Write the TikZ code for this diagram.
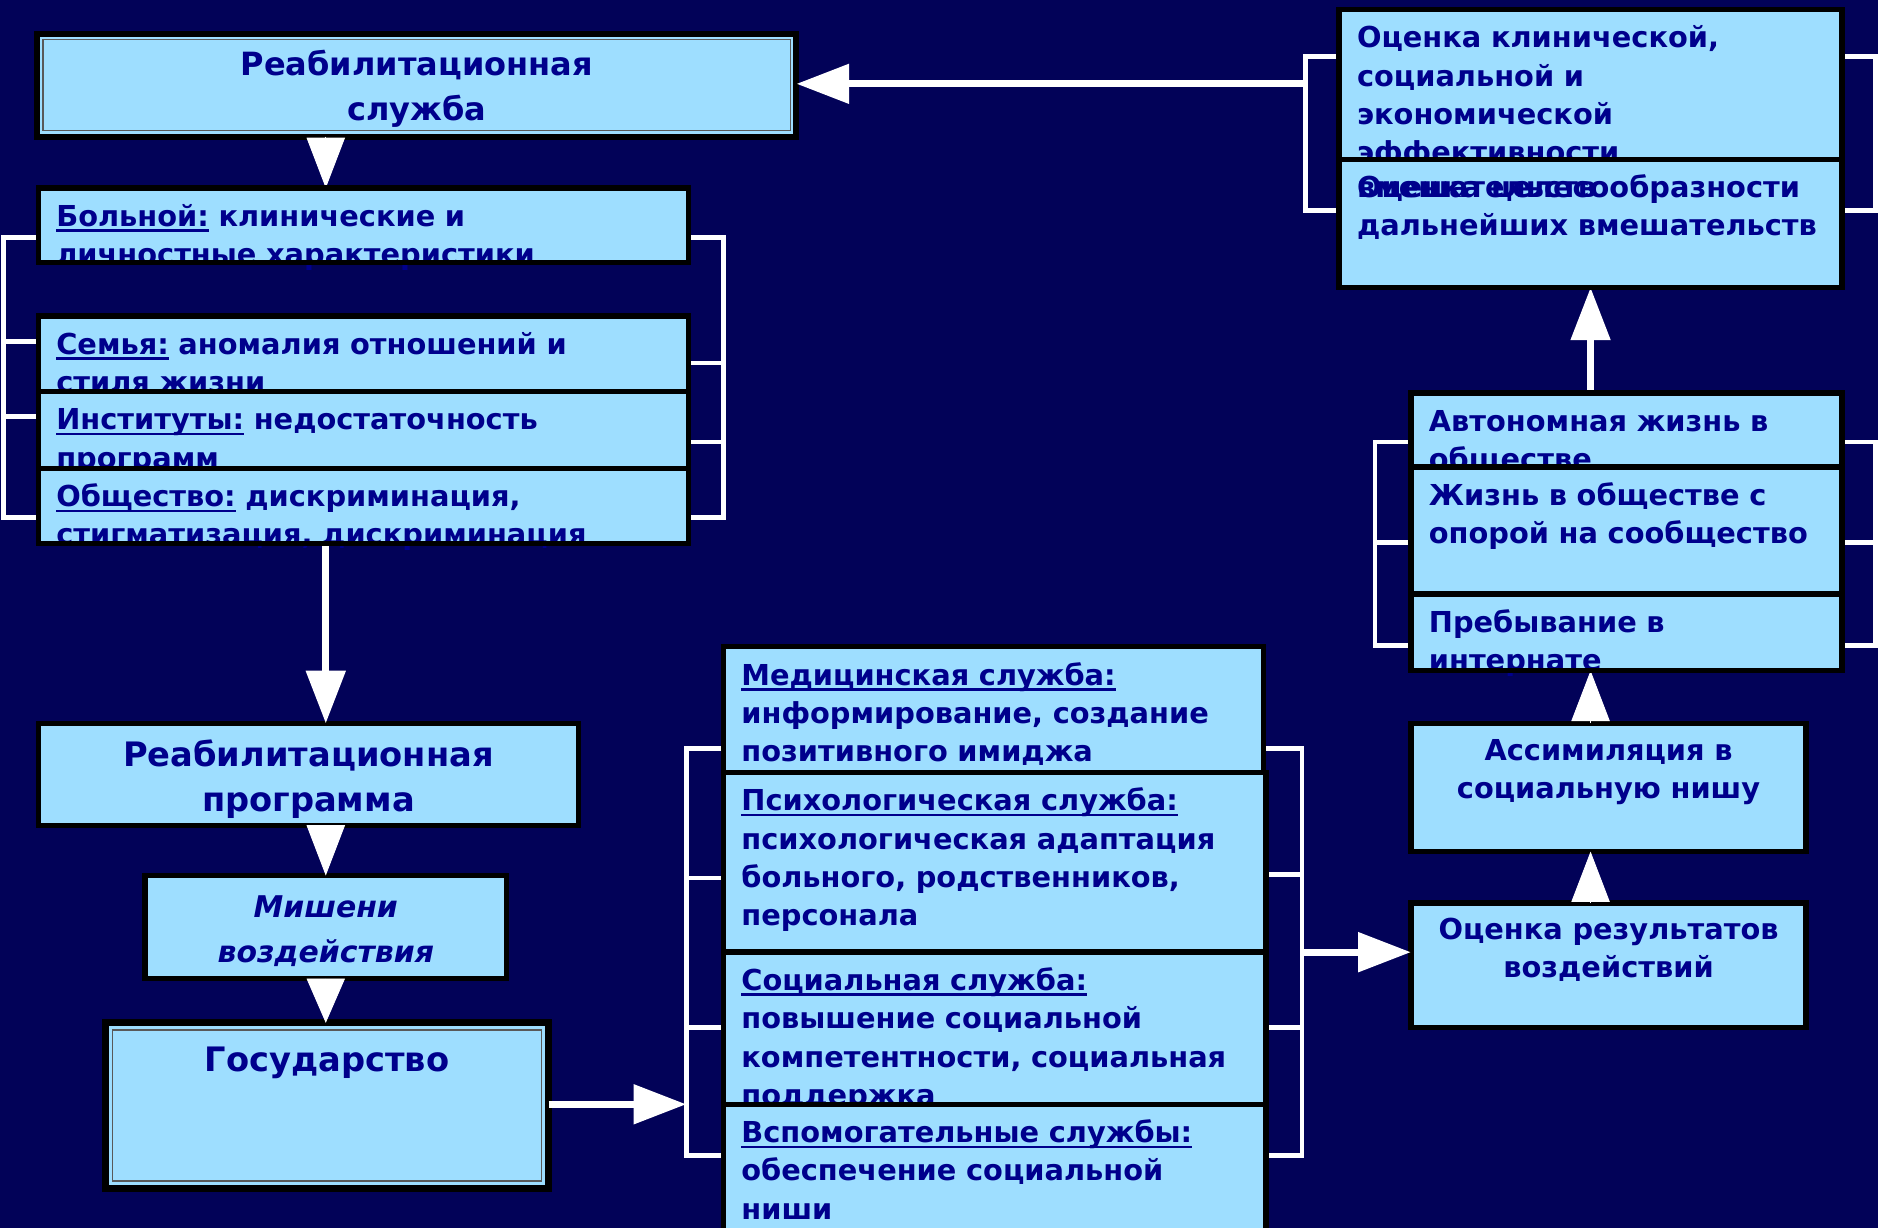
\documentclass[tikz,border=0pt]{standalone}
\usepackage{fontspec}
\setmainfont{DejaVu Sans}
\usetikzlibrary{arrows.meta}
\definecolor{bgnavy}{RGB}{2,2,88}
\definecolor{paleblue}{RGB}{158,222,255}
\definecolor{inkblue}{RGB}{0,0,140}
\newsavebox{\hwbox}
\newcommand{\headword}[1]{\sbox{\hwbox}{#1}\rlap{\rule[-2.6pt]{\wd\hwbox}{1.2pt}}\usebox{\hwbox}}
\newcommand{\bodyfont}{\fontsize{13.7}{18.2}\selectfont\bfseries}
\newcommand{\titlefont}{\fontsize{16}{21.6}\selectfont\bfseries}
\begin{document}
\begin{tikzpicture}[x=0.2mm,y=-0.2mm,
  every node/.style={text=inkblue,font=\bodyfont},
  cell/.style 2 args={draw=black,line width=0.9mm,fill=paleblue,anchor=north west,
    inner xsep=3mm,inner ysep=0pt,outer sep=0pt,align=left,text width=#1*0.2mm-6mm,
    text height=6.4mm,text depth=#2*0.2mm-6.4mm},
  titlebox/.style n args={3}{cell={#1}{#2},align=center,font=\titlefont,
    text height=#3*0.2mm,text depth=#2*0.2mm-#3*0.2mm},
  bracketline/.style={white,line width=0.8mm},
  flow/.style={white,line width=1.2mm,-{Triangle[width=6.4mm,length=8.8mm]}},
  gaparrow/.style={white,line width=0.4pt,-{Triangle[width=6.4mm,length=#1]}},
  gaparrow/.default=8.4mm]
\useasboundingbox (0,0) rectangle (1568,1025);
\clip (0,0) rectangle (1568,1025);
\fill[bgnavy] (0,0) rectangle (1568,1025);

% left column
\node[titlebox={634}{86}{35},line width=1mm,font=\fontsize{15.2}{21.6}\selectfont\bfseries] (svc) at (31,28) {Реабилитационная\\служба};
\draw[black!65,line width=0.25mm] ([shift={(5,5)}]svc.north west) rectangle ([shift={(-5,-5)}]svc.south east);
\node[cell={543}{62}] (bol) at (32,157) {\headword{Больной:} клинические и\\личностные характеристики};
\node[cell={543}{63}] (sem) at (32,264) {\headword{Семья:} аномалия отношений и\\стиля жизни};
\node[cell={543}{64}] (inst) at (32,327) {\headword{Институты:} недостаточность\\программ};
\node[cell={543}{63}] (obsh) at (32,391) {\headword{Общество:} дискриминация,\\стигматизация, дискриминация};
\node[titlebox={451}{85}{36}] (prog) at (32,604) {Реабилитационная\\программа};
\node[titlebox={302}{86}{35},font=\fontsize{14.2}{21.6}\selectfont\bfseries\itshape] (mish) at (121,731) {Мишени\\воздействия};
\node[titlebox={370}{138}{41},line width=1.2mm] (gos) at (88,854) {Государство};
\draw[black!65,line width=0.25mm] ([shift={(6,6)}]gos.north west) rectangle ([shift={(-6,-6)}]gos.south east);

% services
\node[cell={451}{105}] (med) at (604,540) {\headword{Медицинская служба:}\\информирование, создание\\позитивного имиджа};
\node[cell={453}{150}] (psy) at (604,645) {\headword{Психологическая служба:}\\психологическая адаптация\\больного, родственников,\\персонала};
\node[cell={453}{127}] (soc) at (604,795) {\headword{Социальная служба:}\\повышение социальной\\компетентности, социальная\\поддержка};
\node[cell={453}{115}] (aux) at (604,922) {\headword{Вспомогательные службы:}\\обеспечение социальной\\ниши};

% right column
\node[titlebox={330}{104}{30},font=\bodyfont] (ocres) at (1178,754) {Оценка результатов\\воздействий};
\node[titlebox={330}{107}{31},font=\bodyfont] (assim) at (1178,604) {Ассимиляция в\\социальную нишу};
\node[cell={360}{62}] (avt) at (1178,328) {Автономная жизнь в\\обществе};
\node[cell={360}{106}] (zhizn) at (1178,390) {Жизнь в обществе с\\опорой на сообщество};
\node[cell={360}{64}] (preb) at (1178,496) {Пребывание в\\интернате};
\node[cell={420}{125}] (ocklin) at (1118,8) {Оценка клинической,\\социальной и\\экономической\\эффективности};
\node[cell={420}{107}] (ocnel) at (1118,133) {\rlap{вмешательств}Оценка целесообразности\\\mbox{дальнейших вмешательств}};

% brackets
\draw[bracketline] (bol.west |- 0,198) -| (3,432) -- (obsh.west |- 0,432);
\draw[bracketline] (sem.west |- 0,285) -- (3,285) (inst.west |- 0,348) -- (3,348);
\draw[bracketline] (bol.east |- 0,198) -| (604,432) -- (obsh.east |- 0,432);
\draw[bracketline] (sem.east |- 0,303) -- (604,303) (inst.east |- 0,369) -- (604,369);
\draw[bracketline] (med.west |- 0,625) -| (573,965) -- (aux.west |- 0,965);
\draw[bracketline] (psy.west |- 0,733) -- (573,733) (soc.west |- 0,858) -- (573,858);
\draw[bracketline] (med.east |- 0,625) -| (1087,965) -- (aux.east |- 0,965);
\draw[bracketline] (psy.east |- 0,730) -- (1087,730) (soc.east |- 0,858) -- (1087,858);
\draw[bracketline] (avt.west |- 0,369) -| (1148,539) -- (preb.west |- 0,539);
\draw[bracketline] (zhizn.west |- 0,453) -- (1148,453);
\draw[bracketline] (avt.east |- 0,369) -| (1566,539) -- (preb.east |- 0,539);
\draw[bracketline] (zhizn.east |- 0,453) -- (1566,453);
\draw[bracketline] (ocklin.west |- 0,47) -| (1090,176) -- (ocnel.west |- 0,176);
\draw[bracketline] (ocklin.east |- 0,47) -| (1566,176) -- (ocnel.east |- 0,176);

% arrows
\coordinate (svcin) at (573,922);
\coordinate (svcout) at (1087,795);
\coordinate (evalout) at (1090,70);
\draw[gaparrow] (272,0 |- svc.south) -- (272,0 |- bol.north);
\draw[flow] (272,0 |- obsh.south) -- (272,0 |- prog.north);
\draw[gaparrow] (mish.north |- prog.south) -- (mish.north);
\draw[gaparrow=7.4mm] (mish.south) -- (mish.south |- gos.north);
\draw[flow] (gos.east |- svcin) -- (svcin);
\draw[flow] (svcout) -- (svcout -| ocres.west);
\draw[gaparrow] (1328,0 |- ocres.north) -- (1328,0 |- assim.south);
\draw[gaparrow] (1328,0 |- assim.north) -- (1328,0 |- preb.south);
\draw[flow] (1328,0 |- avt.north) -- (1328,0 |- ocnel.south);
\draw[flow] (evalout) -- (evalout -| svc.east);

\foreach \n in {bol,sem,inst,obsh,med,psy,soc,aux,avt,zhizn,preb,ocklin,ocnel}
  \draw[line width=0.9mm] (\n.north west) rectangle (\n.south east);
\end{tikzpicture}
\end{document}
